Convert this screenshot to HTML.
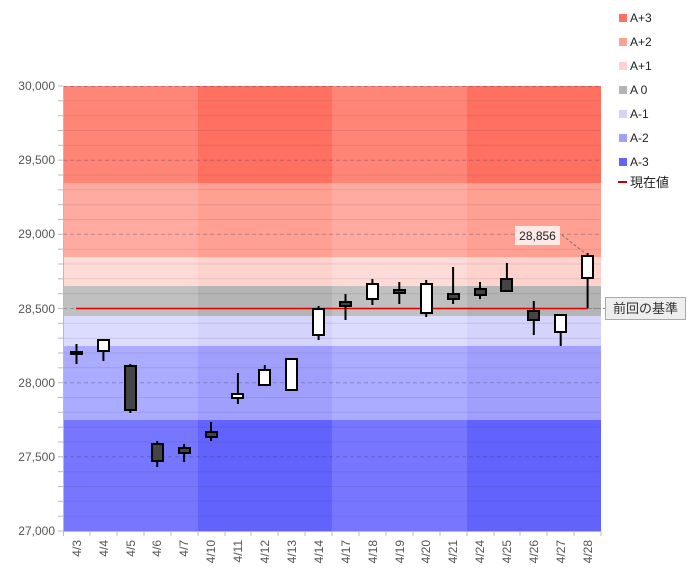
<!DOCTYPE html>
<html><head><meta charset="utf-8"><style>
body{margin:0;background:#fff;}
svg{display:block;font-family:"Liberation Sans","Noto Sans CJK JP",sans-serif;}
</style></head><body>
<svg width="695" height="574" viewBox="0 0 695 574" xmlns="http://www.w3.org/2000/svg">
<rect x="63" y="86" width="538" height="97" fill="#ff8676"/>
<rect x="63" y="183" width="538" height="74" fill="#ffaba1"/>
<rect x="63" y="257" width="538" height="29" fill="#ffdbd7"/>
<rect x="63" y="286" width="538" height="30" fill="#c0c0c0"/>
<rect x="63" y="316" width="538" height="30" fill="#dcdcff"/>
<rect x="63" y="346" width="538" height="74" fill="#ababff"/>
<rect x="63" y="420" width="538" height="111" fill="#7676ff"/>
<g>
<rect x="198" y="86" width="134" height="97" fill="#ff7060"/>
<rect x="467" y="86" width="134" height="97" fill="#ff7060"/>
<rect x="198" y="183" width="134" height="74" fill="#ffa092"/>
<rect x="467" y="183" width="134" height="74" fill="#ffa092"/>
<rect x="198" y="257" width="134" height="29" fill="#ffd2cc"/>
<rect x="467" y="257" width="134" height="29" fill="#ffd2cc"/>
<rect x="198" y="286" width="134" height="30" fill="#b4b4b4"/>
<rect x="467" y="286" width="134" height="30" fill="#b4b4b4"/>
<rect x="198" y="316" width="134" height="30" fill="#d3d3fc"/>
<rect x="467" y="316" width="134" height="30" fill="#d3d3fc"/>
<rect x="198" y="346" width="134" height="74" fill="#a0a0fc"/>
<rect x="467" y="346" width="134" height="74" fill="#a0a0fc"/>
<rect x="198" y="420" width="134" height="111" fill="#6262fc"/>
<rect x="467" y="420" width="134" height="111" fill="#6262fc"/>
</g>
<g stroke="rgba(60,60,110,0.13)" stroke-width="1">
<line x1="63" x2="601" y1="516.2" y2="516.2"/><line x1="63" x2="601" y1="501.3" y2="501.3"/><line x1="63" x2="601" y1="486.5" y2="486.5"/><line x1="63" x2="601" y1="471.7" y2="471.7"/>
<line x1="63" x2="601" y1="442" y2="442"/><line x1="63" x2="601" y1="427.2" y2="427.2"/><line x1="63" x2="601" y1="412.3" y2="412.3"/><line x1="63" x2="601" y1="397.5" y2="397.5"/>
<line x1="63" x2="601" y1="367.8" y2="367.8"/><line x1="63" x2="601" y1="353" y2="353"/><line x1="63" x2="601" y1="338.2" y2="338.2"/><line x1="63" x2="601" y1="323.3" y2="323.3"/>
<line x1="63" x2="601" y1="293.7" y2="293.7"/><line x1="63" x2="601" y1="278.8" y2="278.8"/><line x1="63" x2="601" y1="264" y2="264"/><line x1="63" x2="601" y1="249.2" y2="249.2"/>
<line x1="63" x2="601" y1="219.5" y2="219.5"/><line x1="63" x2="601" y1="204.7" y2="204.7"/><line x1="63" x2="601" y1="189.8" y2="189.8"/><line x1="63" x2="601" y1="175" y2="175"/>
<line x1="63" x2="601" y1="145.3" y2="145.3"/><line x1="63" x2="601" y1="130.5" y2="130.5"/><line x1="63" x2="601" y1="115.7" y2="115.7"/><line x1="63" x2="601" y1="100.8" y2="100.8"/>
</g>
<g stroke="rgba(60,60,110,0.35)" stroke-width="1" stroke-dasharray="4,3">
<line x1="63" x2="601" y1="456.8" y2="456.8"/><line x1="63" x2="601" y1="382.7" y2="382.7"/><line x1="63" x2="601" y1="308.5" y2="308.5"/><line x1="63" x2="601" y1="234.3" y2="234.3"/><line x1="63" x2="601" y1="160.2" y2="160.2"/><line x1="63" x2="601" y1="86.5" y2="86.5"/>
</g>
<g stroke="#bbb" stroke-width="1">
<line x1="63.5" y1="86" x2="63.5" y2="531"/>
<line x1="63" y1="531.5" x2="601" y2="531.5"/>
</g>
<g stroke="#bbb">
<line x1="58" x2="63" y1="531" y2="531"/><line x1="58" x2="63" y1="516.2" y2="516.2"/><line x1="58" x2="63" y1="501.3" y2="501.3"/><line x1="58" x2="63" y1="486.5" y2="486.5"/><line x1="58" x2="63" y1="471.7" y2="471.7"/><line x1="58" x2="63" y1="456.8" y2="456.8"/><line x1="58" x2="63" y1="442" y2="442"/><line x1="58" x2="63" y1="427.2" y2="427.2"/><line x1="58" x2="63" y1="412.3" y2="412.3"/><line x1="58" x2="63" y1="397.5" y2="397.5"/><line x1="58" x2="63" y1="382.7" y2="382.7"/><line x1="58" x2="63" y1="367.8" y2="367.8"/><line x1="58" x2="63" y1="353" y2="353"/><line x1="58" x2="63" y1="338.2" y2="338.2"/><line x1="58" x2="63" y1="323.3" y2="323.3"/><line x1="58" x2="63" y1="308.5" y2="308.5"/><line x1="58" x2="63" y1="293.7" y2="293.7"/><line x1="58" x2="63" y1="278.8" y2="278.8"/><line x1="58" x2="63" y1="264" y2="264"/><line x1="58" x2="63" y1="249.2" y2="249.2"/><line x1="58" x2="63" y1="234.3" y2="234.3"/><line x1="58" x2="63" y1="219.5" y2="219.5"/><line x1="58" x2="63" y1="204.7" y2="204.7"/><line x1="58" x2="63" y1="189.8" y2="189.8"/><line x1="58" x2="63" y1="175" y2="175"/><line x1="58" x2="63" y1="160.2" y2="160.2"/><line x1="58" x2="63" y1="145.3" y2="145.3"/><line x1="58" x2="63" y1="130.5" y2="130.5"/><line x1="58" x2="63" y1="115.7" y2="115.7"/><line x1="58" x2="63" y1="100.8" y2="100.8"/><line x1="58" x2="63" y1="86" y2="86"/>
<line x1="63.5" x2="63.5" y1="531" y2="536"/><line x1="90" x2="90" y1="531" y2="536"/><line x1="117" x2="117" y1="531" y2="536"/><line x1="144" x2="144" y1="531" y2="536"/><line x1="171" x2="171" y1="531" y2="536"/><line x1="198" x2="198" y1="531" y2="536"/><line x1="225" x2="225" y1="531" y2="536"/><line x1="251" x2="251" y1="531" y2="536"/><line x1="278" x2="278" y1="531" y2="536"/><line x1="305" x2="305" y1="531" y2="536"/><line x1="332" x2="332" y1="531" y2="536"/><line x1="359" x2="359" y1="531" y2="536"/><line x1="386" x2="386" y1="531" y2="536"/><line x1="413" x2="413" y1="531" y2="536"/><line x1="440" x2="440" y1="531" y2="536"/><line x1="467" x2="467" y1="531" y2="536"/><line x1="494" x2="494" y1="531" y2="536"/><line x1="520" x2="520" y1="531" y2="536"/><line x1="547" x2="547" y1="531" y2="536"/><line x1="574" x2="574" y1="531" y2="536"/><line x1="601" x2="601" y1="531" y2="536"/>
</g>
<g font-size="12" fill="#555" text-anchor="end">
<text x="55" y="535">27,000</text><text x="55" y="461">27,500</text><text x="55" y="387">28,000</text><text x="55" y="313">28,500</text><text x="55" y="238">29,000</text><text x="55" y="164">29,500</text><text x="55" y="90">30,000</text>
</g>
<g font-size="12" fill="#555" text-anchor="end">
<text transform="translate(81,540) rotate(-90)">4/3</text>
<text transform="translate(108,540) rotate(-90)">4/4</text>
<text transform="translate(135,540) rotate(-90)">4/5</text>
<text transform="translate(161,540) rotate(-90)">4/6</text>
<text transform="translate(188,540) rotate(-90)">4/7</text>
<text transform="translate(215,540) rotate(-90)">4/10</text>
<text transform="translate(242,540) rotate(-90)">4/11</text>
<text transform="translate(269,540) rotate(-90)">4/12</text>
<text transform="translate(296,540) rotate(-90)">4/13</text>
<text transform="translate(323,540) rotate(-90)">4/14</text>
<text transform="translate(350,540) rotate(-90)">4/17</text>
<text transform="translate(377,540) rotate(-90)">4/18</text>
<text transform="translate(404,540) rotate(-90)">4/19</text>
<text transform="translate(430,540) rotate(-90)">4/20</text>
<text transform="translate(457,540) rotate(-90)">4/21</text>
<text transform="translate(484,540) rotate(-90)">4/24</text>
<text transform="translate(511,540) rotate(-90)">4/25</text>
<text transform="translate(538,540) rotate(-90)">4/26</text>
<text transform="translate(565,540) rotate(-90)">4/27</text>
<text transform="translate(592,540) rotate(-90)">4/28</text>
</g>
<line x1="76" x2="588" y1="308.5" y2="308.5" stroke="#e00000" stroke-width="1.5"/>
<g stroke="#000" stroke-width="2">
<line x1="76.5" x2="76.5" y1="344" y2="364"/><rect x="71" y="352" width="11" height="2" fill="#444"/>
<line x1="103.4" x2="103.4" y1="339" y2="361"/><rect x="98" y="340" width="11" height="11" fill="#fff"/>
<line x1="130.3" x2="130.3" y1="364" y2="413"/><rect x="125" y="366" width="11" height="44" fill="#444"/>
<line x1="157.2" x2="157.2" y1="441" y2="467"/><rect x="152" y="444" width="11" height="17" fill="#444"/>
<line x1="184.1" x2="184.1" y1="444" y2="462"/><rect x="179" y="448" width="11" height="5" fill="#444"/>
<line x1="211" x2="211" y1="422" y2="441"/><rect x="206" y="432" width="11" height="5" fill="#444"/>
<line x1="237.9" x2="237.9" y1="373" y2="404"/><rect x="232" y="394" width="11" height="4" fill="#fff"/>
<line x1="264.8" x2="264.8" y1="365" y2="385"/><rect x="259" y="370" width="11" height="15" fill="#fff"/>
<rect x="286" y="359" width="11" height="31" fill="#fff"/>
<line x1="318.6" x2="318.6" y1="306" y2="340"/><rect x="313" y="309" width="11" height="26" fill="#fff"/>
<line x1="345.5" x2="345.5" y1="294" y2="320"/><rect x="340" y="302" width="11" height="4" fill="#444"/>
<line x1="372.4" x2="372.4" y1="279" y2="305"/><rect x="367" y="284" width="11" height="15" fill="#fff"/>
<line x1="399.3" x2="399.3" y1="282" y2="304"/><rect x="394" y="290" width="11" height="3" fill="#444"/>
<line x1="426.2" x2="426.2" y1="280" y2="317"/><rect x="421" y="284" width="11" height="29" fill="#fff"/>
<line x1="453.1" x2="453.1" y1="267" y2="304"/><rect x="448" y="294" width="11" height="5" fill="#444"/>
<line x1="480" x2="480" y1="282" y2="299"/><rect x="475" y="289" width="11" height="6" fill="#444"/>
<line x1="506.9" x2="506.9" y1="263" y2="291"/><rect x="501" y="279" width="11" height="12" fill="#444"/>
<line x1="533.8" x2="533.8" y1="301" y2="335"/><rect x="528" y="311" width="11" height="9" fill="#444"/>
<line x1="560.7" x2="560.7" y1="315" y2="346"/><rect x="555" y="315" width="11" height="17" fill="#fff"/>
<line x1="587.6" x2="587.6" y1="253" y2="308"/><rect x="582" y="256" width="11" height="22" fill="#fff"/>
</g>
<line x1="562" y1="235" x2="586" y2="254" stroke="#777" stroke-dasharray="3,2"/>
<rect x="515" y="226" width="45" height="19" fill="#fbe9e6"/>
<text x="537.5" y="240" font-size="12" fill="#222" text-anchor="middle">28,856</text>
<line x1="588" y1="308.5" x2="605" y2="308.5" stroke="#888" stroke-dasharray="3,2"/>
<rect x="605.5" y="297.5" width="80" height="22" fill="#eee" stroke="#aaa"/>
<text x="645.5" y="313" font-size="13" fill="#333" text-anchor="middle">前回の基準</text>
<g font-size="12" fill="#222">
<rect x="619" y="14" width="8" height="8" fill="#ff7060"/><text x="630" y="22">A+3</text>
<rect x="619" y="38" width="8" height="8" fill="#ffa092"/><text x="630" y="46">A+2</text>
<rect x="619" y="62" width="8" height="8" fill="#ffd2cc"/><text x="630" y="70">A+1</text>
<rect x="619" y="86" width="8" height="8" fill="#b4b4b4"/><text x="630" y="94">A 0</text>
<rect x="619" y="110" width="8" height="8" fill="#d3d3fc"/><text x="630" y="118">A-1</text>
<rect x="619" y="134" width="8" height="8" fill="#a0a0fc"/><text x="630" y="142">A-2</text>
<rect x="619" y="158" width="8" height="8" fill="#6262fc"/><text x="630" y="166">A-3</text>
<rect x="618" y="181" width="9" height="2" fill="#c00000"/><text x="630" y="187" font-size="13">現在値</text>
</g>
</svg>
</body></html>
